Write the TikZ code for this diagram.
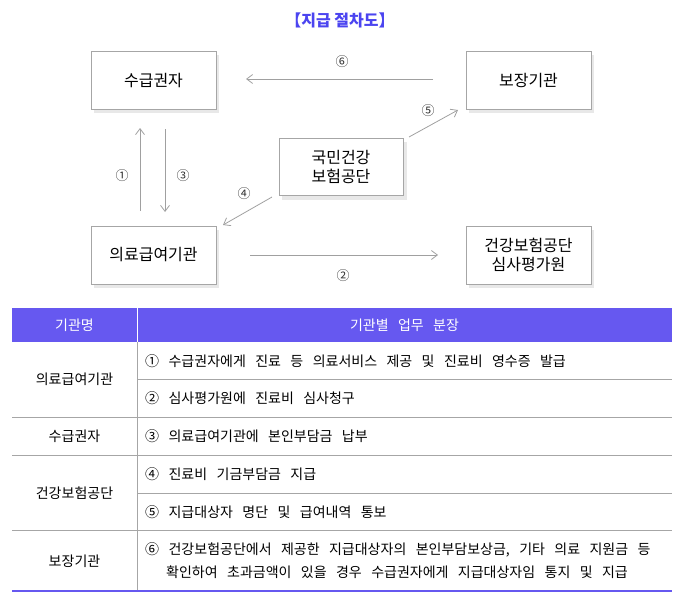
\documentclass[tikz,border=0pt]{standalone}
\usepackage{fontspec}
\setmainfont{Noto Sans CJK KR}
\newfontfamily\widefont[WordSpace=3]{Noto Sans CJK KR}
\usetikzlibrary{arrows.meta}
\definecolor{hdr}{HTML}{6658F0}
\definecolor{ttl}{HTML}{4B44F0}
\definecolor{arr}{HTML}{A0A0A0}
\begin{document}
\begin{tikzpicture}[x=1pt,y=-1pt,
  box/.style={draw=gray!70,line width=1pt,fill=white,minimum width=125pt,minimum height=58pt,align=center,font=\fontsize{16}{19}\selectfont,inner sep=0pt},
  con/.style={draw=arr,line width=0.8pt,-{Straight Barb[length=6pt,width=9pt]}},
  num/.style={font=\fontsize{13}{15}\selectfont,text=black!80},
  cell/.style={font=\widefont\fontsize{14}{16}\selectfont,anchor=west,inner sep=0pt},
  lcell/.style={font=\widefont\fontsize{14}{16}\selectfont},
  rule/.style={draw=gray!70,line width=1pt}]
\useasboundingbox (0,0) rectangle (695,602);
\node[font=\bfseries\fontsize{16}{19}\selectfont,text=ttl] (title) at (340,20) {【지급 절차도】};
\foreach \x/\y in {91/51,466/51,279/138,91/226,466/226}
  \fill[gray!18] (\x+3,\y+4) rectangle (\x+128,\y+62);
\node[box] (a) at (153.5,80.5) {수급권자};
\node[box] (b) at (528.5,80.5) {보장기관};
\node[box,minimum width=124pt,minimum height=57pt] (c) at (341,166.5) {국민건강\\보험공단};
\node[box] (d) at (153.5,255) {의료급여기관};
\node[box] (e) at (528.5,255) {건강보험공단\\심사평가원};
\coordinate (p6s) at (433,79); \coordinate (p6e) at (246,79);
\draw[con] (p6s) -- (p6e);
\node[num] (n6) at (342,62) {⑥};
\coordinate (p5s) at (409,137); \coordinate (p5e) at (458,110);
\draw[con] (p5s) -- (p5e);
\node[num] (n5) at (428,111) {⑤};
\coordinate (p4s) at (272,197); \coordinate (p4e) at (223,225);
\draw[con] (p4s) -- (p4e);
\node[num] (n4) at (244,194) {④};
\coordinate (p1s) at (140,211); \coordinate (p1e) at (140,128);
\draw[con] (p1s) -- (p1e);
\node[num] (n1) at (122,176) {①};
\coordinate (p3s) at (165,129); \coordinate (p3e) at (165,212);
\draw[con] (p3s) -- (p3e);
\node[num] (n3) at (183,176) {③};
\coordinate (p2s) at (250,255); \coordinate (p2e) at (438,255);
\draw[con] (p2s) -- (p2e);
\node[num] (n2) at (343,276) {②};
% table
\fill[hdr] (12,308) rectangle (672,342);
\draw[white,line width=1pt] (137,308) -- (137,342);
\node[lcell,text=white] (h1) at (74.5,325) {기관명};
\node[lcell,text=white] (h2) at (404.5,325) {기관별 업무 분장};
\draw[rule] (137,342) -- (137,590);
\draw[rule] (137,379) -- (672,379);
\draw[rule] (12,417) -- (672,417);
\draw[rule] (12,455) -- (672,455);
\draw[rule] (137,493) -- (672,493);
\draw[rule] (12,530) -- (672,530);
\draw[hdr,line width=2pt] (12,591) -- (672,591);
\node[lcell] (l1) at (74.5,379) {의료급여기관};
\node[lcell] (l2) at (74.5,436) {수급권자};
\node[lcell] (l3) at (74.5,493) {건강보험공단};
\node[lcell] (l4) at (74.5,561) {보장기관};
\node[cell] (r1) at (145,361) {① 수급권자에게 진료 등 의료서비스 제공 및 진료비 영수증 발급};
\node[cell] (r2) at (145,398) {② 심사평가원에 진료비 심사청구};
\node[cell] (r3) at (145,436) {③ 의료급여기관에 본인부담금 납부};
\node[cell] (r4) at (145,474) {④ 진료비 기금부담금 지급};
\node[cell] (r5) at (145,512) {⑤ 지급대상자 명단 및 급여내역 통보};
\node[cell] (r6) at (145,550) {⑥ 건강보험공단에서 제공한 지급대상자의 본인부담보상금, 기타 의료 지원금 등};
\node[cell] (r7) at (166,572) {확인하여 초과금액이 있을 경우 수급권자에게 지급대상자임 통지 및 지급};
\end{tikzpicture}
\end{document}
